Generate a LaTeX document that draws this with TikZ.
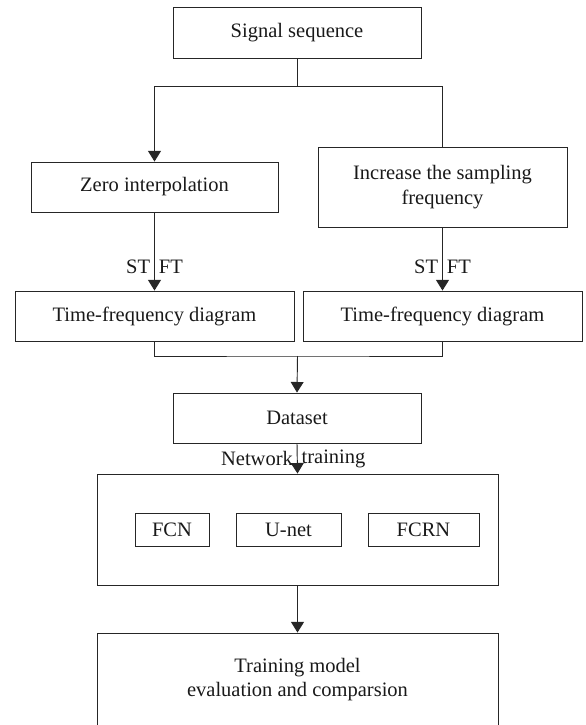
\documentclass[tikz,border=0pt]{standalone}
\usepackage{fontspec}
\setmainfont{Liberation Serif}
\usetikzlibrary{arrows.meta}

\begin{document}
\begin{tikzpicture}[x=0.03cm, y=-0.03cm, line width=0.8pt, draw=black!85,
    font=\fontsize{17.5}{21}\selectfont, text=black!90,
    >={Triangle[width=11pt,length=9pt]},
    box/.style={draw, inner sep=0pt, align=center}]
  \useasboundingbox (0,0) rectangle (585,725);

  \node[box, minimum width=7.44cm, minimum height=1.53cm] (sig) at (297,32.5) {Signal sequence};

  \node[box, minimum width=7.41cm, minimum height=1.5cm] (zero) at (154.5,187) {Zero interpolation};
  \node[box, minimum width=7.47cm, minimum height=2.4cm] (inc) at (442.5,187) {Increase the sampling\\frequency};

  \node[box, minimum width=8.37cm, minimum height=1.5cm] (tf1) at (154.5,316) {Time-frequency diagram};
  \node[box, minimum width=8.37cm, minimum height=1.5cm] (tf2) at (442.5,316) {Time-frequency diagram};

  \node[box, minimum width=7.44cm, minimum height=1.5cm] (data) at (297,418) {Dataset};

  % Netze
  \node[box, minimum width=12.03cm, minimum height=3.33cm] (net) at (297.5,529.5) {};
  \begin{scope}[every node/.style={box, minimum height=0.99cm}]
    \node[minimum width=2.22cm] (fcn) at (172,529.5) {FCN};
    \node[minimum width=3.15cm] (unet) at (288.5,529.5) {U-net};
    \node[minimum width=3.33cm] (fcrn) at (423.5,529.5) {FCRN};
  \end{scope}

  \node[box, minimum width=12.03cm, minimum height=2.79cm] (eval) at (297.5,679.5) {Training model\\evaluation and comparsion};

  \coordinate (split) at (297,86);
  \coordinate (merge) at (297.5,356);

  \draw (sig.south) -- (split);
  \draw[->] (split) -| (zero.north);
  \draw (split) -| (inc.north);

  \draw[->] (zero.south) -- (tf1.north) node[pos=0.7, left] {ST} node[pos=0.7, right] {FT};
  \draw[->] (inc.south) -- (tf2.north) node[pos=0.625, left] {ST} node[pos=0.625, right] {FT};

  \draw (tf1.south) |- (merge) -| (tf2.south);
  \draw[->] (merge) -- (data.north);

  \draw[->] (data.south) -- (net.north) node[midway, left] {Network} node[midway, right] {training};
  \draw[->] (net.south) -- (eval.north);

\end{tikzpicture}
\end{document}
